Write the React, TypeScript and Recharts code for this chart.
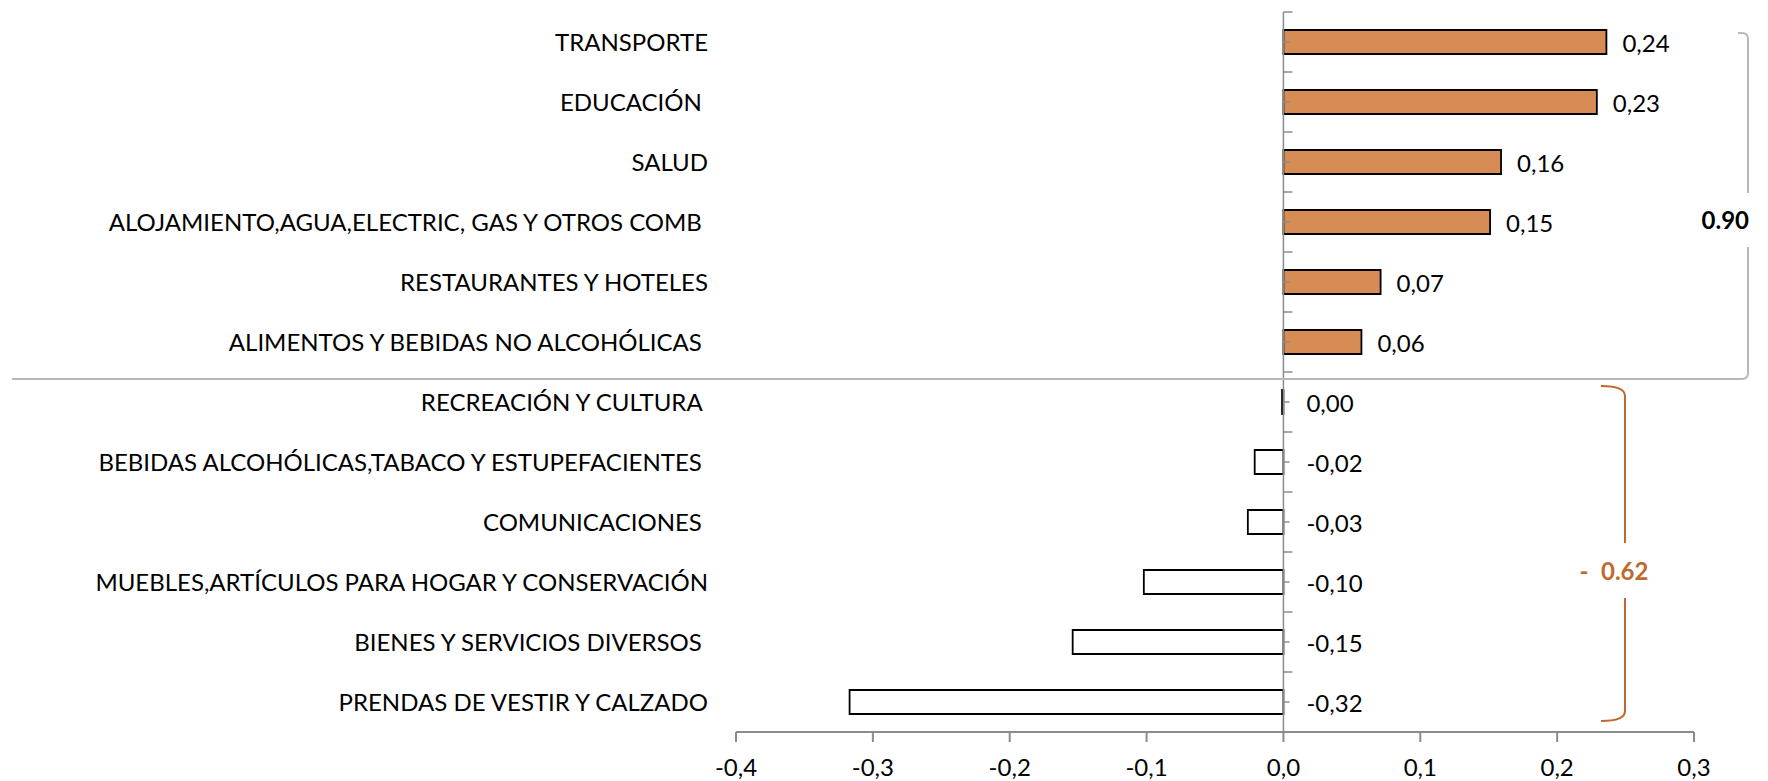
import { BarChart, Bar, XAxis, YAxis, Cell, LabelList, ReferenceLine } from 'recharts';

// categories, top to bottom (trailing spaces kept as in the source sheet)
const categories = [
  'TRANSPORTE',
  'EDUCACIÓN ',
  'SALUD',
  'ALOJAMIENTO,AGUA,ELECTRIC, GAS Y OTROS COMB ',
  'RESTAURANTES Y HOTELES',
  'ALIMENTOS Y BEBIDAS NO ALCOHÓLICAS ',
  'RECREACIÓN Y CULTURA ',
  'BEBIDAS ALCOHÓLICAS,TABACO Y ESTUPEFACIENTES ',
  'COMUNICACIONES ',
  'MUEBLES,ARTÍCULOS PARA HOGAR Y CONSERVACIÓN',
  'BIENES Y SERVICIOS DIVERSOS ',
  'PRENDAS DE VESTIR Y CALZADO',
];

const values = [0.236, 0.229, 0.159, 0.151, 0.071, 0.057, -0.001, -0.021, -0.026, -0.102, -0.154, -0.317];

const xTicks = [-0.4, -0.3, -0.2, -0.1, 0, 0.1, 0.2, 0.3];

const W = 1768;
const H = 781;
const PLOT_LEFT = 736;
const PLOT_RIGHT = 1694;
const PLOT_TOP = 12;
const PLOT_BOTTOM = 732;
const X_MIN = -0.4;
const X_MAX = 0.3;
const BAND = (PLOT_BOTTOM - PLOT_TOP) / categories.length;
const ZERO_X = PLOT_LEFT + ((0 - X_MIN) / (X_MAX - X_MIN)) * (PLOT_RIGHT - PLOT_LEFT);
const LABEL_RIGHT = 708;

const FONT = 'Lato, "Open Sans", sans-serif';
const FS = 24;
const ORANGE = '#D78B55';
const AXIS = '#8c8c8c';
const BRACKET_ORANGE = '#C0692C';

const fmt2 = (v: number) => {
  const s = v.toFixed(2).replace('.', ',');
  return s === '-0,00' ? '0,00' : s;
};

function CategoryTick(props: any) {
  const { y, payload } = props;
  return (
    <g>
      <text
        x={LABEL_RIGHT}
        y={y + 9}
        textAnchor="end"
        fontFamily={FONT}
        fontSize={FS}
        fill="#000"
        style={{ whiteSpace: 'pre' }}
      >
        {payload.value}
      </text>
      <line x1={ZERO_X} x2={ZERO_X + 9} y1={y - BAND / 2} y2={y - BAND / 2} stroke={AXIS} strokeWidth={1.5} />
      <line x1={ZERO_X} x2={ZERO_X + 6} y1={y} y2={y} stroke={AXIS} strokeWidth={1.5} />
    </g>
  );
}

function XTick(props: any) {
  const { x, payload } = props;
  return (
    <text x={x} y={776} textAnchor="middle" fontFamily={FONT} fontSize={FS} fill="#000">
      {Number(payload.value).toFixed(1).replace('.', ',')}
    </text>
  );
}

function ValueLabel(props: any) {
  const { x, y, width, height, value } = props;
  const v = Number(value);
  const right = Math.max(Number(x), Number(x) + Number(width));
  const off = v > 0 ? 16 : 23;
  return (
    <text
      x={right + off}
      y={Number(y) + Number(height) / 2 + 10}
      textAnchor="start"
      fontFamily={FONT}
      fontSize={FS}
      fill="#000"
    >
      {fmt2(v)}
    </text>
  );
}

export default function App() {
  const data = categories.map((name, i) => ({ name, value: values[i] }));
  const posSum = values.filter((v) => v > 0).reduce((a, b) => a + b, 0);
  const negSum = values.filter((v) => v <= 0).reduce((a, b) => a + b, 0);

  return (
    <div style={{ position: 'relative', width: W, height: H, background: '#fff' }}>
      <style>{'body{margin:0}'}</style>
      <BarChart
        width={W}
        height={H}
        data={data}
        layout="vertical"
        margin={{ top: PLOT_TOP, right: W - PLOT_RIGHT, bottom: 0, left: 0 }}
      >
        <XAxis
          type="number"
          domain={[X_MIN, X_MAX]}
          ticks={xTicks}
          interval={0}
          height={H - PLOT_BOTTOM}
          axisLine={{ stroke: AXIS, strokeWidth: 2 }}
          tickLine={{ stroke: AXIS, strokeWidth: 2 }}
          tickSize={10}
          tick={<XTick />}
        />
        <YAxis
          type="category"
          dataKey="name"
          width={PLOT_LEFT}
          interval={0}
          axisLine={false}
          tickLine={false}
          tick={<CategoryTick />}
        />
        <ReferenceLine x={0} stroke={AXIS} strokeWidth={1.5} />
        <Bar dataKey="value" barSize={24} stroke="#000" strokeWidth={1.8} isAnimationActive={false}>
          {data.map((d, i) => (
            <Cell key={`c-${i}`} fill={d.value > 0 ? ORANGE : '#fff'} />
          ))}
          <LabelList dataKey="value" content={<ValueLabel />} />
        </Bar>
      </BarChart>

      {/* annotation brackets drawn over the chart */}
      <svg width={W} height={H} style={{ position: 'absolute', left: 0, top: 0, pointerEvents: 'none' }}>
        <defs>
          <filter id="shadow" x="-5%" y="-200%" width="110%" height="500%">
            <feGaussianBlur stdDeviation="3" />
          </filter>
        </defs>
        <line x1={14} x2={1740} y1={385} y2={385} stroke="#c4c4c4" strokeWidth={6} filter="url(#shadow)" opacity={0.8} />
        <path
          d="M 12 379 L 1742 379 Q 1748 379 1748 373 L 1748 247 M 1748 193 L 1748 39 Q 1748 33 1742 33 L 1738 33"
          fill="none"
          stroke="#b8b8b8"
          strokeWidth={2}
        />
        <text x={1749} y={229} textAnchor="end" fontFamily={FONT} fontSize={FS} fontWeight={700} fill="#000">
          {posSum.toFixed(2)}
        </text>

        <path
          d="M 1601 386 Q 1625 386 1625 396 L 1625 543 M 1625 598 L 1625 711 Q 1625 721 1601 721"
          fill="none"
          stroke={BRACKET_ORANGE}
          strokeWidth={2}
        />
        <text x={1584} y={580} textAnchor="middle" fontFamily={FONT} fontSize={FS} fontWeight={700} fill={BRACKET_ORANGE}>
          -
        </text>
        <text x={1601} y={580} textAnchor="start" fontFamily={FONT} fontSize={FS} fontWeight={700} fill={BRACKET_ORANGE}>
          {Math.abs(negSum).toFixed(2)}
        </text>
      </svg>
    </div>
  );
}
